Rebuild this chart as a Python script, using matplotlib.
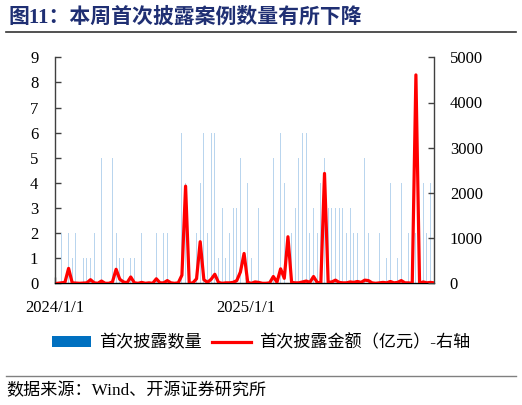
import matplotlib
matplotlib.use("Agg")
import matplotlib.pyplot as plt
import matplotlib.patches as mpatches
from matplotlib.lines import Line2D
import pandas as pd
import numpy as np

# ---------------- data ----------------
start_date = "2024-01-06"
n_weeks = 104
counts = [0, 2, 1, 2, 1, 2, 0, 1, 1, 1, 2, 0, 5, 0, 0, 5, 2, 1, 1, 1,
          1, 1, 1, 2, 0, 2, 0, 2, 2, 2, 2, 3, 0, 0, 6, 4, 0, 0, 2, 4,
          6, 2, 6, 6, 1, 3, 1, 2, 3, 3, 5, 4, 4, 1, 6, 3, 0, 0, 0, 5,
          3, 6, 4, 7, 2, 3, 5, 6, 6, 2, 3, 2, 4, 5, 3, 3, 3, 3, 3, 2,
          3, 2, 2, 2, 5, 2, 5, 0, 2, 2, 1, 4, 1, 1, 4, 3, 2, 0, 2, 0,
          4, 2, 4, 0]
amounts = [0, 10, 20, 330, 10, 5, 0, 5, 10, 80, 10, 0, 50, 0, 0, 30, 310, 90, 30, 10,
           140, 10, 0, 20, 0, 10, 0, 100, 10, 10, 60, 10, 0, 10, 180, 2150, 0, 10, 100, 920,
           80, 20, 90, 200, 20, 0, 10, 10, 20, 60, 250, 660, 20, 0, 30, 20, 0, 0, 10, 150,
           25, 320, 110, 1030, 20, 10, 10, 30, 50, 20, 150, 20, 10, 2430, 20, 30, 70, 20, 10, 10,
           30, 20, 40, 20, 70, 60, 10, 0, 10, 20, 10, 40, 10, 20, 60, 10, 10, 0, 4610, 0,
           30, 10, 20, 10]
tick_dates = ["2024-01-01", "2025-01-01"]
tick_labels = ["2024/1/1", "2025/1/1"]
left_ticks = list(range(0, 10))
right_ticks = [0, 1000, 2000, 3000, 4000, 5000]

title = "图11：本周首次披露案例数量有所下降"
legend_labels = ["首次披露数量", "首次披露金额（亿元）-右轴"]
source = "数据来源：Wind、开源证券研究所"

dates = pd.date_range(start_date, periods=n_weeks, freq="7D")

# ---------------- style ----------------
serif_cjk = ["Liberation Serif", "Noto Sans CJK SC"]
plt.rcParams["font.family"] = serif_cjk
plt.rcParams["axes.unicode_minus"] = False

W, H = 522, 405
fig = plt.figure(figsize=(W / 100, H / 100), dpi=100)
fig.patch.set_facecolor("white")

left_px, right_px, top_px, bottom_px = 55, 434.5, 57.3, 283.3
ax = fig.add_axes([left_px / W, 1 - bottom_px / H,
                   (right_px - left_px) / W, (bottom_px - top_px) / H])
ax2 = ax.twinx()

bar_color = "#B9D5EE"
ax.bar(dates, counts, width=1.6, color=bar_color, linewidth=0, zorder=2)
ax2.plot(dates, amounts, color="#FF0000", linewidth=2.3, solid_joinstyle="round", zorder=3)

ax.set_ylim(0, 9)
ax2.set_ylim(0, 5000)
ax.set_xlim(pd.Timestamp("2024-01-01"), dates[-1] + pd.Timedelta(days=0.6))

ax.set_yticks(left_ticks)
ax2.set_yticks(right_ticks)
ax.set_xticks([pd.Timestamp(d) for d in tick_dates])
ax.set_xticklabels(tick_labels)

for a in (ax, ax2):
    a.spines["top"].set_visible(False)
    a.set_facecolor("none")
ax.spines["left"].set_color("#404040")
ax.spines["bottom"].set_color("#000000")
ax.spines["right"].set_visible(False)
ax2.spines["left"].set_visible(False)
ax2.spines["bottom"].set_visible(False)
ax2.spines["right"].set_color("#404040")
for s in ("left", "bottom"):
    ax.spines[s].set_linewidth(1.0)
ax2.spines["right"].set_linewidth(1.0)

ax.tick_params(axis="y", direction="in", length=4, width=1, color="#404040",
               pad=12, labelsize=12, labelcolor="black")
ax2.tick_params(axis="y", direction="in", length=4, width=1, color="#404040",
                pad=11, labelsize=12, labelcolor="black")
ax.tick_params(axis="x", direction="in", length=4, width=1, color="#404040",
               pad=12, labelsize=12, labelcolor="black")
ax.set_zorder(1)
ax2.set_zorder(2)

# ---------------- title & lines ----------------
fig.text(8 / W, 1 - 18 / H, title, fontsize=15, fontweight="bold",
         color="#1F2F73", ha="left", va="center", family=serif_cjk)
fig.add_artist(Line2D([6 / W, 516 / W], [1 - 32 / H, 1 - 32 / H],
                      color="#333333", linewidth=1.2))
fig.add_artist(Line2D([6 / W, 516 / W], [1 - 376 / H, 1 - 376 / H],
                      color="#808080", linewidth=1.0))
fig.text(6 / W, 1 - 390.5 / H, source, fontsize=12.3, color="black",
         ha="left", va="center", family=serif_cjk)

# ---------------- legend ----------------
handles = [mpatches.Patch(color="#0070C0", linewidth=0),
           Line2D([], [], color="#FF0000", linewidth=2.3)]
fig.legend(handles, legend_labels, loc="center", bbox_to_anchor=(0.5, 1 - 343 / H),
           ncol=2, frameon=False, handlelength=2.3, handleheight=0.6,
           handletextpad=0.45, columnspacing=0.6, prop={"family": serif_cjk, "size": 12.3})

fig.savefig("out.png", dpi=100, facecolor="white")
